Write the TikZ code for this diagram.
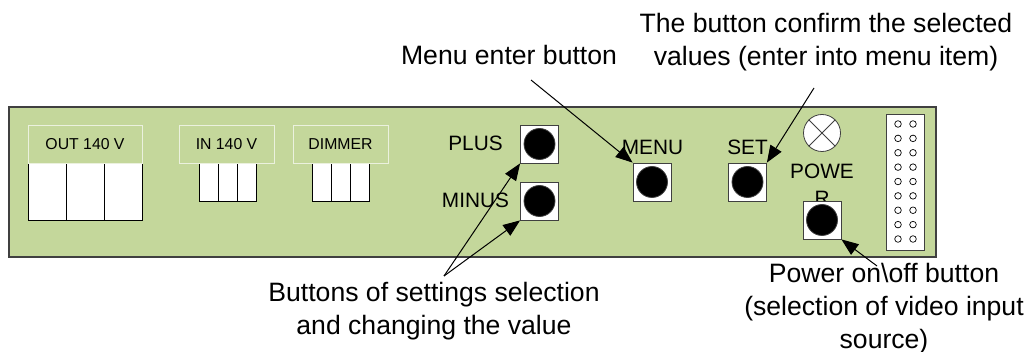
\documentclass[tikz,border=0pt]{standalone}
\usepackage{fontspec}
\setmainfont{Liberation Sans}
\usetikzlibrary{arrows.meta}
\definecolor{panelgreen}{RGB}{196,215,155}
\definecolor{labelrim}{RGB}{235,241,222}
\definecolor{rim}{RGB}{64,64,64}

\begin{document}
\begin{tikzpicture}[x=0.5pt, y=-0.5pt,
 note/.style={font=\fontsize{13.3}{16.5}\selectfont, align=center, inner sep=0pt},
 tag/.style={font=\fontsize{10.4}{13.5}\selectfont, inner sep=0pt},
 caption/.style={shape=rectangle, draw=labelrim, fill=panelgreen, minimum height=19pt, inner sep=0pt, font=\fontsize{7.9}{9}\selectfont},
 pushbutton/.style={shape=rectangle, draw=rim, fill=white, minimum size=19pt, inner sep=0pt, node contents=},
 knob/.style={shape=circle, draw=rim, fill=black, minimum size=15.5pt, inner sep=0pt, node contents=},
 pin/.style={shape=circle, draw, fill=white, minimum size=3.3pt, inner sep=0pt, line width=0.35pt, node contents=},
 pointer/.style={-{Triangle[length=8.5pt,width=6.5pt]}, line width=0.5pt}
]
\useasboundingbox (0,0) rectangle (1027,352);

% panel
\draw[draw=rim, fill=panelgreen, line width=0.75pt] (9,107) rectangle (936,257);

% sockets
\foreach \i in {0,1,2} {
 \draw[fill=white] (28+38*\i,163) rectangle ++(38,57);
 \draw[fill=white] (199+19*\i,163) rectangle ++(19,38);
 \draw[fill=white] (312+19*\i,163) rectangle ++(19,38);
}
\node (outcap) at (85,144) [caption, minimum width=57pt] {OUT 140 V};
\node (incap) at (226.5,144) [caption, minimum width=47.5pt] {IN 140 V};
\node (dimcap) at (340.5,144) [caption, minimum width=47.5pt] {DIMMER};

% buttons
\node (powertag) at (822,164) [tag, align=center, anchor=north] {POWE\\R};
\foreach \name/\x/\y in {plus/539.5/144, minus/539.5/201, menu/652/182, set/747.5/182, power/822/220} {
 \node (\name) at (\x,\y) [pushbutton];
 \node (\name knob) at (\x,\y) [knob];
}
\node (plustag) at (475.5,143) [tag] {PLUS};
\node (minustag) at (475.5,200) [tag] {MINUS};
\node (menutag) at (652.5,147) [tag] {MENU};
\node (settag) at (747.5,147) [tag] {SET};

% lamp and header
\node (lamp) at (822,133) [shape=circle, draw=rim, fill=white, minimum size=18.5pt, inner sep=0pt] {};
\draw[rim] (lamp.north west) -- (lamp.south east);
\draw[rim] (lamp.north east) -- (lamp.south west);
\node (header) at (905,182) [draw=rim, fill=white, minimum width=19pt, minimum height=68pt, inner sep=0pt] {};
\foreach \row in {0,...,8}
 \foreach \col in {898,913}
  \node (pin-\col-\row) at (\col,{124+14.375*\row}) [pin];

% notes
\node (menunote) at (509,45) [note, anchor=north] {Menu enter button};
\node (setnote) at (826,13) [note, anchor=north] {The button confirm the selected\\values (enter into menu item)};
\node (selnote) at (434,282) [note, anchor=north] {Buttons of settings selection\\and changing the value};
\node (powernote) at (884,263) [note, anchor=north] {Power on\textbackslash off button\\(selection of video input\\source)};

\coordinate (menutail) at (531,80);
\coordinate (settail) at (814,88);
\coordinate (seltail) at (444,276);
\coordinate (powertail) at (877,266);
\draw[pointer] (menutail) -- (menu.north west);
\draw[pointer] (settail) -- (set.north east);
\draw[pointer] (seltail) -- (plus.south west);
\draw[pointer] (seltail) -- (minus.south west);
\draw[pointer] (powertail) -- (power.south east);

\end{tikzpicture}
\end{document}
